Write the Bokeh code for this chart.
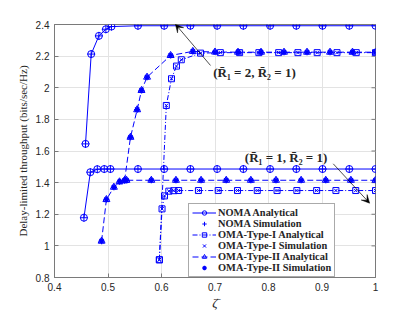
import math
from bokeh.plotting import figure
from bokeh.models import (Range1d, FixedTicker, Legend, LegendItem,
                          Label, Arrow, VeeHead)
from bokeh.embed import file_html
from bokeh.resources import INLINE

# ---------------- data ----------------
x_ticks = [0.4, 0.5, 0.6, 0.7, 0.8, 0.9, 1.0]
x_tick_labels = ["0.4", "0.5", "0.6", "0.7", "0.8", "0.9", "1"]
y_ticks = [0.8, 1.0, 1.2, 1.4, 1.6, 1.8, 2.0, 2.2, 2.4]
y_tick_labels = ["0.8", "1", "1.2", "1.4", "1.6", "1.8", "2", "2.2", "2.4"]

noma_r1_x = [0.455, 0.467, 0.480, 0.493, 0.5045, 0.556, 0.605, 0.654, 0.704,
             0.753, 0.803, 0.852, 0.901, 0.951, 1.0]
noma_r1_y = [1.178, 1.466, 1.485, 1.486, 1.486, 1.486, 1.486, 1.486, 1.486,
             1.486, 1.486, 1.486, 1.486, 1.486, 1.486]

noma_r2_x = [0.458, 0.4686, 0.483, 0.496, 0.5065, 0.556, 0.605, 0.654, 0.704,
             0.753, 0.803, 0.852, 0.901, 0.951, 1.0]
noma_r2_y = [1.645, 2.213, 2.328, 2.370, 2.387, 2.392, 2.392, 2.392, 2.392,
             2.392, 2.392, 2.392, 2.392, 2.392, 2.392]

oma1_r1_x = [0.596, 0.601, 0.6056, 0.6137, 0.623, 0.632, 0.669, 0.706, 0.742,
             0.779, 0.816, 0.853, 0.890, 0.926, 0.963, 1.0]
oma1_r1_y = [0.912, 1.234, 1.316, 1.346, 1.349, 1.350, 1.350, 1.350, 1.350,
             1.350, 1.350, 1.350, 1.350, 1.350, 1.350, 1.350]

oma1_r2_x = [0.596, 0.609, 0.6187, 0.628, 0.637, 0.673, 0.710, 0.746, 0.782,
             0.819, 0.855, 0.891, 0.928, 0.964, 1.0]
oma1_r2_y = [0.912, 1.888, 2.057, 2.137, 2.177, 2.219, 2.222, 2.222, 2.222,
             2.222, 2.222, 2.222, 2.222, 2.222, 2.222]

oma2_r1_x = [0.488, 0.497, 0.511, 0.5215, 0.531, 0.5346, 0.581, 0.627, 0.674,
             0.721, 0.767, 0.814, 0.861, 0.907, 0.954, 1.0]
oma2_r1_y = [1.030, 1.293, 1.371, 1.405, 1.413, 1.415, 1.415, 1.415, 1.415,
             1.415, 1.415, 1.415, 1.415, 1.415, 1.415, 1.415]

oma2_r2_x = [0.531, 0.542, 0.5545, 0.5626, 0.573, 0.617, 0.6585, 0.700, 0.743,
             0.786, 0.829, 0.872, 0.915, 0.957, 1.0]
oma2_r2_y = [1.413, 1.687, 1.861, 1.983, 2.067, 2.204, 2.230, 2.226, 2.225,
             2.225, 2.225, 2.225, 2.225, 2.225, 2.225]

BLUE = "#0000ff"
AX = "#262626"
GRID = "#e3e3e3"
FRAME = "#7a7a7a"
SERIF = "Liberation Serif"
SANS = "Liberation Sans"

p = figure(width=415, height=312, output_backend="svg", toolbar_location=None,
           x_range=Range1d(0.4, 1.0), y_range=Range1d(0.8, 2.4),
           min_border_left=54, min_border_right=40, min_border_top=24,
           min_border_bottom=35, background_fill_color="white",
           border_fill_color="white")

p.outline_line_color = FRAME
p.outline_line_width = 1

# axes
for ax in (p.xaxis[0], p.yaxis[0]):
    ax.major_tick_out = 0
    ax.major_tick_in = 4
    ax.minor_tick_out = 0
    ax.minor_tick_in = 0
    ax.axis_line_color = FRAME
    ax.major_tick_line_color = FRAME
    ax.major_label_text_font = SANS
    ax.major_label_text_font_size = "10px"
    ax.major_label_text_color = AX

p.xaxis[0].ticker = FixedTicker(ticks=x_ticks)
p.yaxis[0].ticker = FixedTicker(ticks=y_ticks)
p.xaxis[0].major_label_overrides = {t: l for t, l in zip(x_ticks, x_tick_labels)}
p.yaxis[0].major_label_overrides = {t: l for t, l in zip(y_ticks, y_tick_labels)}
p.xaxis[0].major_label_standoff = 5
p.yaxis[0].major_label_standoff = 5

p.yaxis[0].axis_label = "Delay-limited throughput (bits/sec/Hz)"
p.yaxis[0].axis_label_text_font = SERIF
p.yaxis[0].axis_label_text_font_style = "normal"
p.yaxis[0].axis_label_text_font_size = "11px"
p.yaxis[0].axis_label_text_color = AX
p.yaxis[0].axis_label_standoff = 4

p.xaxis[0].axis_label = "\u03b6\u0304"
p.xaxis[0].axis_label_text_font = SERIF
p.xaxis[0].axis_label_text_font_style = "italic"
p.xaxis[0].axis_label_text_font_size = "13px"
p.xaxis[0].axis_label_text_color = AX
p.xaxis[0].axis_label_standoff = 1

p.xgrid.ticker = FixedTicker(ticks=x_ticks)
p.ygrid.ticker = FixedTicker(ticks=y_ticks)
p.xgrid.grid_line_color = GRID
p.ygrid.grid_line_color = GRID

# inward ticks on the top and right edges (half of each dash is clipped away)
p.scatter(x_ticks, [2.4] * len(x_ticks), marker="dash", size=8, angle=math.pi / 2,
          line_color=FRAME, line_width=1)
p.scatter([1.0] * len(y_ticks), y_ticks, marker="dash", size=8,
          line_color=FRAME, line_width=1)

# ---------------- series ----------------
def analytic(xs, ys, dash, marker, size):
    ln = p.line(xs, ys, line_color=BLUE, line_width=1, line_dash=dash)
    mk = p.scatter(xs, ys, marker=marker, size=size, line_color=BLUE,
                   fill_color=None, line_width=1)
    return ln, mk

def simul(xs, ys, marker, size, lw=1.0):
    return p.scatter(xs, ys, marker=marker, size=size, line_color=BLUE,
                     fill_color=None, line_width=lw)

noma_l1, noma_m1 = analytic(noma_r1_x, noma_r1_y, "solid", "circle", 7)
analytic(noma_r2_x, noma_r2_y, "solid", "circle", 7)
noma_s = simul(noma_r1_x, noma_r1_y, "cross", 8)
simul(noma_r2_x, noma_r2_y, "cross", 8)

o1_l, o1_m = analytic(oma1_r1_x, oma1_r1_y, "5 2 1 2", "square", 6)
analytic(oma1_r2_x, oma1_r2_y, "5 2 1 2", "square", 6)
o1_s = simul(oma1_r1_x, oma1_r1_y, "x", 5)
simul(oma1_r2_x, oma1_r2_y, "x", 5)

o2_l, o2_m = analytic(oma2_r1_x, oma2_r1_y, "6 3", "triangle", 7)
analytic(oma2_r2_x, oma2_r2_y, "6 3", "triangle", 7)
o2_s = simul(oma2_r1_x, oma2_r1_y, "asterisk", 6, 1.4)
simul(oma2_r2_x, oma2_r2_y, "asterisk", 6, 1.4)

legend = Legend(items=[
    LegendItem(label="NOMA Analytical", renderers=[noma_l1, noma_m1]),
    LegendItem(label="NOMA Simulation", renderers=[noma_s]),
    LegendItem(label="OMA-Type-I Analytical", renderers=[o1_l, o1_m]),
    LegendItem(label="OMA-Type-I Simulation", renderers=[o1_s]),
    LegendItem(label="OMA-Type-II Analytical", renderers=[o2_l, o2_m]),
    LegendItem(label="OMA-Type-II Simulation", renderers=[o2_s]),
], location=(134, 0), margin=0, padding=3, spacing=0,
    glyph_width=24, glyph_height=11, label_height=11, label_standoff=2,
    label_text_font=SERIF, label_text_font_style="bold",
    label_text_font_size="10.4px", label_text_color=AX,
    border_line_color="#555555", border_line_width=1,
    background_fill_color="white", background_fill_alpha=1)
p.add_layout(legend, "center")

# ---------------- annotations ----------------
p.add_layout(Label(x=0.6966, y=2.098, text="(R\u0304\u2081 = 2, R\u0304\u2082 = 1)",
                   text_font=SERIF, text_font_style="bold", text_font_size="13px",
                   text_color=AX, text_baseline="middle", text_align="left"))
p.add_layout(Label(x=0.7557, y=1.561, text="(R\u0304\u2081 = 1, R\u0304\u2082 = 1)",
                   text_font=SERIF, text_font_style="bold", text_font_size="13px",
                   text_color=AX, text_baseline="middle", text_align="left"))

p.add_layout(Arrow(end=VeeHead(size=8, fill_color="black", line_color="black", line_width=0.5),
                   x_start=0.6916, y_start=2.141, x_end=0.626, y_end=2.402,
                   line_color="black", line_width=0.7))
p.add_layout(Arrow(end=VeeHead(size=8, fill_color="black", line_color="black", line_width=0.5),
                   x_start=0.921, y_start=1.519, x_end=0.989, y_end=1.270,
                   line_color="black", line_width=0.7))

open("out.html", "w").write(file_html(p, INLINE))
